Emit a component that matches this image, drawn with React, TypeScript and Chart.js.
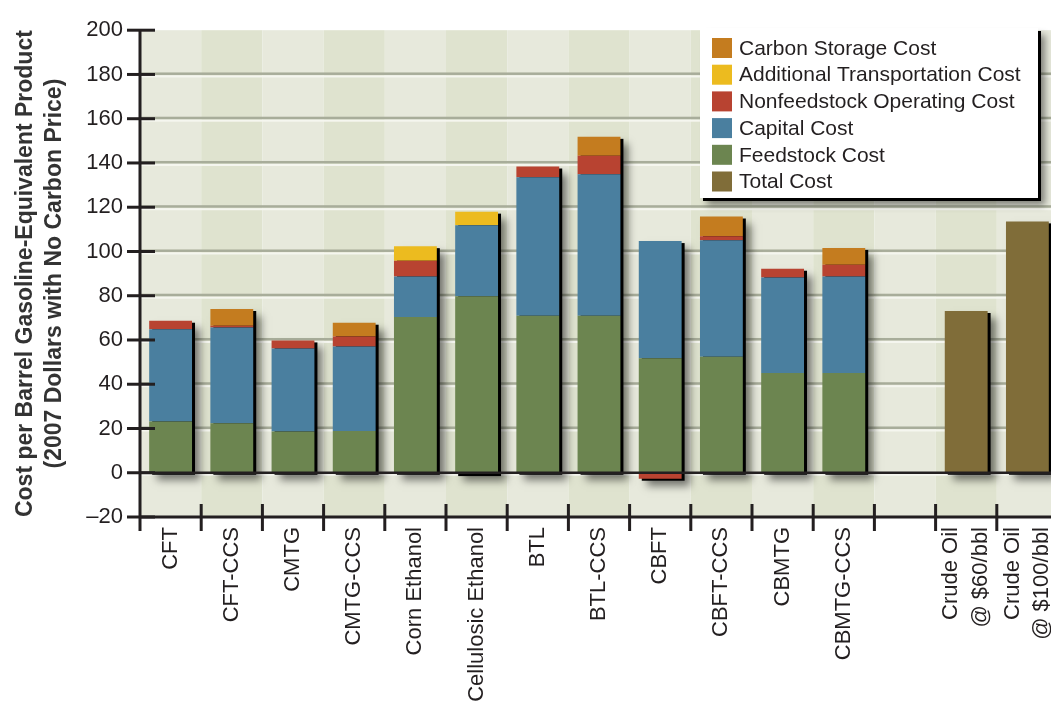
import React, { useEffect, useRef } from 'react';
import { Chart, registerables } from 'chart.js';

Chart.register(...registerables);

const categories: (string | string[])[] = [
  'CFT', 'CFT-CCS', 'CMTG', 'CMTG-CCS', 'Corn Ethanol', 'Cellulosic Ethanol',
  'BTL', 'BTL-CCS', 'CBFT', 'CBFT-CCS', 'CBMTG', 'CBMTG-CCS', '',
  ['Crude Oil', '@ $60/bbl'], ['Crude Oil', '@ $100/bbl'],
];
const feedstockCost = [23.2, 22.4, 18.6, 18.9, 70.4, 79.8, 70.9, 70.9, 51.8, 52.4, 45.1, 45.1, null, null, null];
const capitalCost = [41.7, 43.2, 37.6, 38.2, 18.3, 32.0, 62.7, 64.0, 52.9, 52.7, 43.1, 43.6, null, null, null];
const nonfeedstockCost = [3.8, 0.8, 3.6, 4.5, 7.1, -0.6, 4.8, 8.4, -2.7, 1.8, 4.0, 5.3, null, null, null];
const transportCost = [null, null, null, null, 6.6, 6.2, null, null, null, null, null, null, null, null, null];
const storageCost = [null, 7.6, null, 6.2, null, null, null, 8.5, null, 8.9, null, 7.6, null, null, null];
const totalCost = [null, null, null, null, null, null, null, null, null, null, null, null, null, 73.1, 113.6];

const yMin = -20;
const yMax = 200;
const yStep = 20;

const seriesNames = [
  'Feedstock Cost', 'Capital Cost', 'Nonfeedstock Operating Cost',
  'Additional Transportation Cost', 'Carbon Storage Cost', 'Total Cost',
];
const seriesColors = ['#6c8550', '#4a7f9f', '#b84331', '#ecbb1f', '#c47c1f', '#806d39'];
const legendOrder = [4, 3, 2, 1, 0, 5];

const FONT = '"Liberation Sans", Arial, Helvetica, sans-serif';
const INK = '#231f20';
const X_FONT_SIZE = 22;
const X_LINE_HEIGHT = 1.36;

const decorPlugin = {
  id: 'decor',
  beforeDraw(chart: any) {
    const { ctx, chartArea } = chart;
    const x = chart.scales.x;
    const step = x.getPixelForValue(1) - x.getPixelForValue(0);
    // center multi-line rotated category labels on their category
    const items = x.getLabelItems(chartArea);
    items.forEach((it: any) => {
      if (Array.isArray(it.label) && !it._centered) {
        const n = it.label.length;
        it.options.translation[0] -= ((n - 1) * X_FONT_SIZE * X_LINE_HEIGHT) / 2;
        it._centered = true;
      }
    });
    ctx.save();
    ctx.fillStyle = '#ffffff';
    ctx.fillRect(0, 0, chart.width, chart.height);
    for (let i = 0; i < categories.length; i++) {
      const cx = x.getPixelForValue(i);
      ctx.fillStyle = i % 2 === 0 ? '#e7e9dc' : '#dfe3cf';
      ctx.fillRect(cx - step / 2, chartArea.top, step, chartArea.bottom - chartArea.top);
    }
    ctx.restore();
  },
  beforeDatasetsDraw(chart: any) {
    const { ctx, chartArea } = chart;
    const x = chart.scales.x;
    const y = chart.scales.y;
    ctx.save();
    for (let v = yMin + yStep; v < yMax; v += yStep) {
      if (v === 0) continue;
      const py = y.getPixelForValue(v);
      ctx.fillStyle = '#f5f6ef';
      ctx.fillRect(chartArea.left, py + 1, chartArea.right - chartArea.left, 2);
      ctx.fillStyle = '#a8ad9a';
      ctx.fillRect(chartArea.left, py - 2, chartArea.right - chartArea.left, 2.5);
    }
    const pz = y.getPixelForValue(0);
    ctx.fillStyle = '#f5f6ef';
    ctx.fillRect(chartArea.left, pz + 1, chartArea.right - chartArea.left, 2);
    const step = x.getPixelForValue(1) - x.getPixelForValue(0);
    const w = step * 0.7;
    const all = [feedstockCost, capitalCost, nonfeedstockCost, transportCost, storageCost, totalCost];
    for (let i = 0; i < categories.length; i++) {
      let pos = 0;
      let neg = 0;
      let any = false;
      all.forEach((arr) => {
        const v = arr[i];
        if (v === null || v === undefined) return;
        any = true;
        if (v >= 0) pos += v; else neg += v;
      });
      if (!any) continue;
      const cx = x.getPixelForValue(i);
      const top = y.getPixelForValue(pos);
      const bot = y.getPixelForValue(neg);
      ctx.save();
      ctx.shadowColor = 'rgba(0,0,0,0.5)';
      ctx.shadowBlur = 8;
      ctx.shadowOffsetX = 5;
      ctx.shadowOffsetY = 5;
      ctx.fillStyle = '#000';
      ctx.fillRect(cx - w / 2 + 3, top + 2, w, bot - top);
      ctx.restore();
    }
    ctx.restore();
  },
  afterDatasetsDraw(chart: any) {
    const { ctx, chartArea } = chart;
    const y = chart.scales.y;
    const pz = y.getPixelForValue(0);
    ctx.save();
    ctx.strokeStyle = INK;
    ctx.lineWidth = 2.5;
    ctx.beginPath();
    ctx.moveTo(chartArea.left, pz);
    ctx.lineTo(chartArea.right, pz);
    ctx.stroke();
    ctx.restore();
  },
  afterDraw(chart: any) {
    const { ctx, chartArea } = chart;
    const x = chart.scales.x;
    const y = chart.scales.y;
    const step = x.getPixelForValue(1) - x.getPixelForValue(0);
    ctx.save();
    ctx.strokeStyle = INK;
    ctx.lineWidth = 3;
    ctx.lineCap = 'butt';
    ctx.beginPath();
    ctx.moveTo(chartArea.left, chartArea.top - 1);
    ctx.lineTo(chartArea.left, chartArea.bottom + 14);
    ctx.stroke();
    ctx.beginPath();
    ctx.moveTo(chartArea.left, chartArea.bottom);
    ctx.lineTo(chartArea.right, chartArea.bottom);
    ctx.stroke();
    for (let v = yMin; v <= yMax; v += yStep) {
      const py = y.getPixelForValue(v);
      ctx.beginPath();
      ctx.moveTo(chartArea.left - 13, py);
      ctx.lineTo(chartArea.left + 15, py);
      ctx.stroke();
    }
    for (let i = 1; i <= categories.length; i++) {
      const bx = x.getPixelForValue(i) - step / 2;
      ctx.beginPath();
      ctx.moveTo(bx, chartArea.bottom - 13);
      ctx.lineTo(bx, chartArea.bottom + 14);
      ctx.stroke();
    }
    // legend
    const lx = 700, ly = 28, lw = 338, lh = 170;
    ctx.save();
    ctx.shadowColor = 'rgba(0,0,0,0.45)';
    ctx.shadowBlur = 7;
    ctx.shadowOffsetX = 4;
    ctx.shadowOffsetY = 4;
    ctx.fillStyle = '#000';
    ctx.fillRect(lx + 3, ly + 3, lw, lh);
    ctx.restore();
    ctx.fillStyle = '#ffffff';
    ctx.fillRect(lx, ly, lw, lh);
    ctx.font = `21px ${FONT}`;
    ctx.textBaseline = 'middle';
    ctx.textAlign = 'left';
    legendOrder.forEach((di, k) => {
      const ry = 38 + k * 26.7;
      ctx.fillStyle = seriesColors[di];
      ctx.fillRect(712, ry, 20, 20);
      ctx.fillStyle = INK;
      ctx.fillText(seriesNames[di], 739, ry + 11);
    });
    ctx.restore();
  },
};

export default function App() {
  const ref = useRef<HTMLCanvasElement>(null);
  useEffect(() => {
    const canvas = ref.current!;
    const series = [feedstockCost, capitalCost, nonfeedstockCost, transportCost, storageCost, totalCost];
    const chart = new Chart(canvas, {
      type: 'bar',
      data: {
        labels: categories as any,
        datasets: series.map((d, i) => ({
          label: seriesNames[i],
          data: d as any,
          backgroundColor: seriesColors[i],
          borderWidth: 0,
          barPercentage: 0.7,
          categoryPercentage: 1,
          stack: 's',
        })),
      },
      options: {
        responsive: false,
        animation: false,
        devicePixelRatio: 1,
        layout: { padding: { top: 21, left: 0, right: 0, bottom: 0 } },
        plugins: { legend: { display: false }, tooltip: { enabled: false } },
        scales: {
          x: {
            stacked: true,
            offset: true,
            grid: { display: false, drawTicks: false },
            border: { display: false },
            ticks: {
              autoSkip: false,
              maxRotation: 90,
              minRotation: 90,
              padding: 10,
              color: INK,
              font: { family: FONT, size: X_FONT_SIZE, lineHeight: X_LINE_HEIGHT },
            },
            afterFit(scale: any) {
              scale.height = 185;
              scale.paddingLeft = 0;
              scale.paddingRight = 0;
            },
          },
          y: {
            stacked: true,
            min: yMin,
            max: yMax,
            grid: { display: false, drawTicks: false },
            border: { display: false },
            ticks: {
              stepSize: yStep,
              padding: 17,
              color: INK,
              font: { family: FONT, size: 22 },
              callback: (v: any) => (Number(v) < 0 ? '\u2013' + Math.abs(Number(v)) : String(v)),
            },
            title: {
              display: true,
              text: ['Cost per Barrel Gasoline-Equivalent Product', '(2007 Dollars with No Carbon Price)'],
              color: '#333333',
              font: { family: FONT, size: 23, weight: 'bold', lineHeight: 1.26 },
              padding: { top: 11, bottom: 0 },
            },
            afterFit(scale: any) {
              scale.width = 140;
            },
          },
        },
      },
      plugins: [decorPlugin],
    });
    return () => chart.destroy();
  }, []);
  return (
    <div style={{ position: 'fixed', left: 0, top: 0, width: 1051, height: 702, overflow: 'hidden', background: '#fff' }}>
      <canvas ref={ref} width={1058} height={702} style={{ width: 1058, height: 702, display: 'block' }} />
    </div>
  );
}
